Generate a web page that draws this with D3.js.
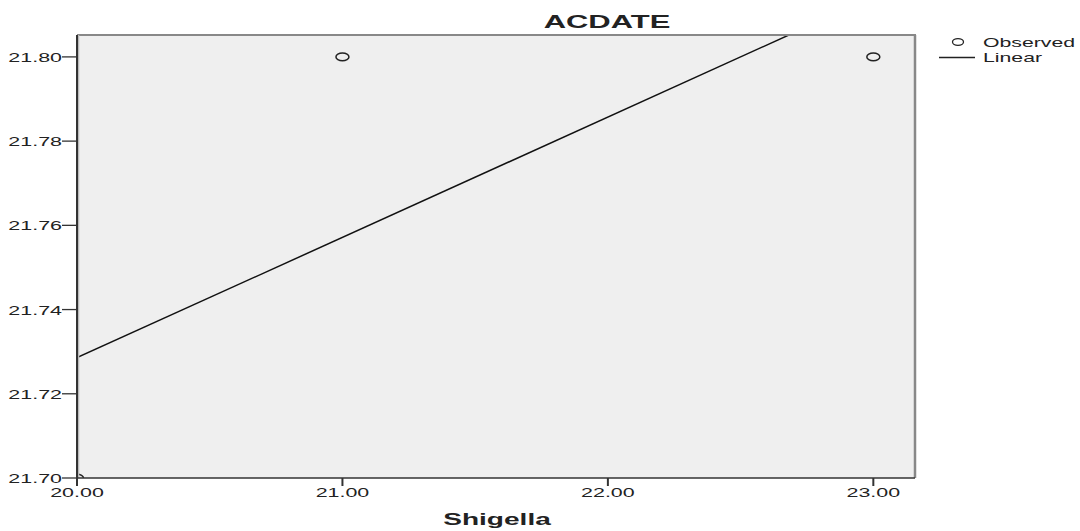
<!DOCTYPE html>
<html><head><meta charset="utf-8">
<script src="https://cdn.jsdelivr.net/npm/d3@7"></script>
<style>body{margin:0;background:#fff}svg{display:block}text{font-family:"Liberation Sans",Arial,sans-serif;fill:#222}</style>
</head><body>
<script>
const obsX = [20, 21, 23];
const obsY = [21.70, 21.80, 21.80];
const xTicks = [20, 21, 22, 23];
const yTicks = [21.70, 21.72, 21.74, 21.76, 21.78, 21.80];
const title = "ACDATE";
const xTitle = "Shigella";
const legendItems = ["Observed", "Linear"];

const W = 1080, H = 531;
const L = 77, R = 915, T = 35, B = 478;
const SX = 1.65;

const svg = d3.select("body").append("svg").attr("width", W).attr("height", H);
const x = d3.scaleLinear().domain([20, 23.157]).range([L, R]);
const y = d3.scaleLinear().domain([21.70, 21.8052]).range([B, T]);

// linear fit
const mx = d3.mean(obsX), my = d3.mean(obsY);
const slope = d3.sum(obsX, (v, i) => (v - mx) * (obsY[i] - my)) / d3.sum(obsX, v => (v - mx) ** 2);
const icpt = my - slope * mx;

svg.append("defs").append("clipPath").attr("id", "clip")
  .append("rect").attr("x", L).attr("y", T).attr("width", R - L).attr("height", B - T);

svg.append("rect").attr("x", L).attr("y", T).attr("width", R - L).attr("height", B - T).attr("fill", "#efefef");

const plot = svg.append("g").attr("clip-path", "url(#clip)");
plot.append("line")
  .attr("x1", x(20)).attr("y1", y(icpt + slope * 20))
  .attr("x2", x(23.157)).attr("y2", y(icpt + slope * 23.157))
  .attr("stroke", "#111").attr("stroke-width", 1.5);
plot.selectAll("ellipse.pt").data(obsX).enter().append("ellipse")
  .attr("cx", d => x(d)).attr("cy", (d, i) => y(obsY[i]))
  .attr("rx", 6.5).attr("ry", 3.8).attr("fill", "none").attr("stroke", "#222").attr("stroke-width", 1.5);

// borders
svg.append("line").attr("x1", L).attr("x2", R + 1).attr("y1", T).attr("y2", T).attr("stroke", "#888").attr("stroke-width", 2);
svg.append("line").attr("x1", R).attr("x2", R).attr("y1", T).attr("y2", B).attr("stroke", "#888").attr("stroke-width", 2.5);
svg.append("line").attr("x1", L + 1.5).attr("x2", L + 1.5).attr("y1", T).attr("y2", B).attr("stroke", "#bbb").attr("stroke-width", 1.5);

function stext(sel, px, py, txt, size, weight, anchor, sx) {
  return sel.append("text").attr("transform", `translate(${px},${py}) scale(${sx || SX},1)`)
    .attr("font-size", size).attr("font-weight", weight || "normal").attr("text-anchor", anchor || "start").text(txt);
}

// y axis
const ya = svg.append("g");
ya.append("line").attr("x1", L).attr("x2", L).attr("y1", T).attr("y2", B).attr("stroke", "#333").attr("stroke-width", 2);
yTicks.forEach(t => {
  ya.append("line").attr("x1", L - 15).attr("x2", L).attr("y1", y(t)).attr("y2", y(t)).attr("stroke", "#333").attr("stroke-width", 1.3);
  stext(ya, L - 15, y(t) + 5, t.toFixed(2), 13, "normal", "end");
});

// x axis
const xa = svg.append("g");
xa.append("line").attr("x1", L).attr("x2", R).attr("y1", B).attr("y2", B).attr("stroke", "#333").attr("stroke-width", 1.3);
xTicks.forEach(t => {
  xa.append("line").attr("x1", x(t)).attr("x2", x(t)).attr("y1", B).attr("y2", B + 8).attr("stroke", "#333").attr("stroke-width", 2);
  stext(xa, x(t), B + 19, t.toFixed(2), 13, "normal", "middle");
});
stext(svg, 497, 525, xTitle, 17, "bold", "middle");
stext(svg, 607, 28, title, 18, "bold", "middle", 1.72);

// legend
const lg = svg.append("g");
lg.append("ellipse").attr("cx", 958).attr("cy", 42).attr("rx", 5.5).attr("ry", 3.4).attr("fill", "none").attr("stroke", "#222").attr("stroke-width", 1.3);
stext(lg, 983, 47, legendItems[0], 12.5, "normal", "start", 1.7);
lg.append("line").attr("x1", 939).attr("x2", 975).attr("y1", 57.5).attr("y2", 57.5).attr("stroke", "#222").attr("stroke-width", 1.3);
stext(lg, 983, 62, legendItems[1], 12.5, "normal", "start", 1.7);
</script>
</body></html>
